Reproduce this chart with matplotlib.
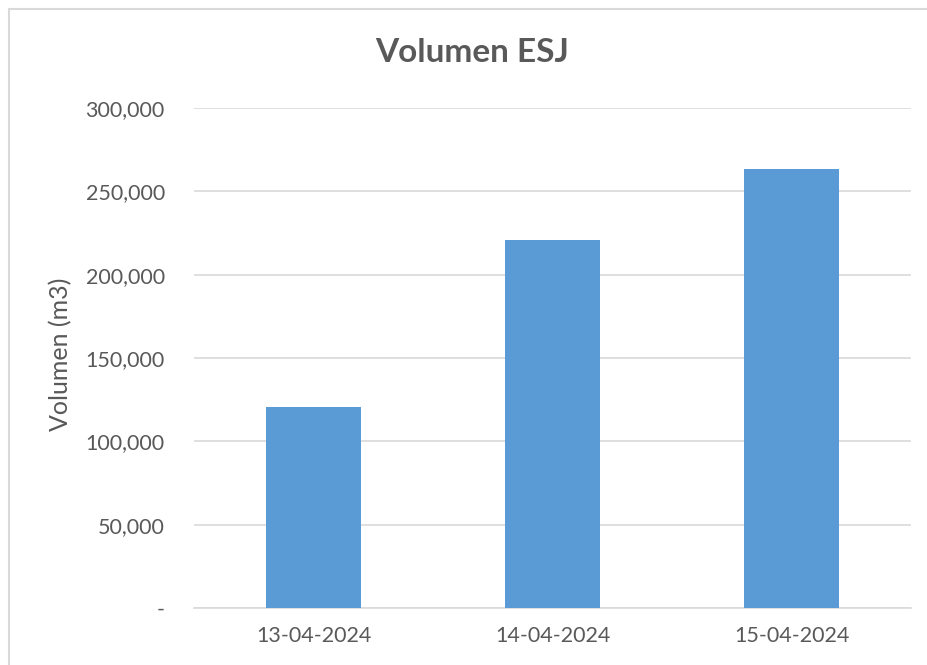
import matplotlib.pyplot as plt
from matplotlib.patches import Rectangle
from matplotlib.ticker import FuncFormatter

fechas = ["13-04-2024", "14-04-2024", "15-04-2024"]
volumen = [120600, 220800, 263400]
y_ticks = [0, 50000, 100000, 150000, 200000, 250000, 300000]

plt.rcParams['font.family'] = ['Lato', 'DejaVu Sans']
gris = "#595959"

fig = plt.figure(figsize=(9.27, 6.65), dpi=100)
fig.patches.append(Rectangle((8.5 / 927, -0.01), 1.0, 1 - 9.5 / 665 + 0.01,
                             transform=fig.transFigure, fill=False,
                             edgecolor="#d9d9d9", linewidth=1.5))

ax = fig.add_axes([194 / 927, 1 - 608 / 665, (911 - 194) / 927, (608 - 108) / 665])
x = range(len(fechas))
ax.bar(x, volumen, width=0.40, color="#5b9bd5", zorder=3)

ax.set_xlim(-0.5, 2.5)
ax.set_ylim(0, 300000)
ax.set_yticks(y_ticks)
ax.yaxis.set_major_formatter(FuncFormatter(lambda v, p: "-" if v == 0 else f"{int(v):,}"))
ax.set_xticks(list(x))
ax.set_xticklabels(fechas)
ax.grid(axis="y", color="#d9d9d9", linewidth=1.2, zorder=0)
for s in ["top", "right", "left"]:
    ax.spines[s].set_visible(False)
ax.spines["bottom"].set_color("#d9d9d9")
ax.spines["bottom"].set_linewidth(1.2)
ax.tick_params(axis="both", length=0, labelsize=15.5, labelcolor=gris)
ax.tick_params(axis="y", pad=21)
ax.tick_params(axis="x", pad=13)

# etiqueta del eje y colocada a mano
fig.text(61 / 927, 1 - 354 / 665, "Volumen (m3)", rotation=90, ha="center", va="center",
         fontsize=18, color=gris)
fig.text(472 / 927, 1 - 52 / 665, "Volumen ESJ", ha="center", va="center",
         fontsize=24, fontweight="bold", color=gris)

fig.savefig("out.png", dpi=100)
